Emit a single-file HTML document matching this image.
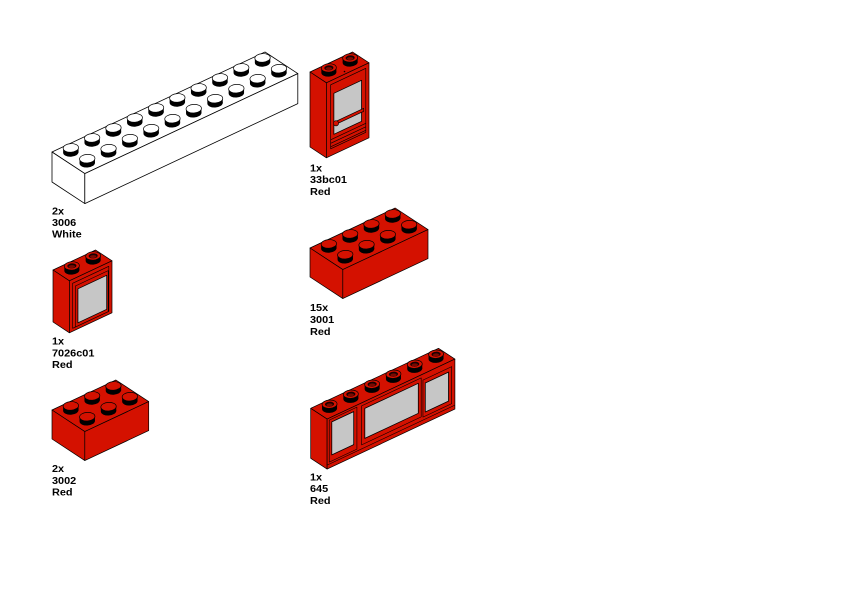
<!DOCTYPE html>
<html>
<head>
<meta charset="utf-8">
<style>
  html, body { margin:0; padding:0; background:#fff; }
  svg { display:block; }
  text { font-family: "Liberation Sans", Arial, sans-serif; font-weight: bold; font-size: 10.2px; fill:#000; }
</style>
</head>
<body>
<svg width="842" height="596" viewBox="0 0 842 596" xmlns="http://www.w3.org/2000/svg">
  <defs>
    <g id="sw">
      <ellipse rx="7.7" ry="4.3" fill="#000" transform="rotate(-3.5)"/>
      <rect x="-7.7" y="-4.5" width="15.4" height="4.5" fill="#000"/>
      <ellipse cy="-4.5" rx="7.7" ry="4.3" fill="#fff" stroke="#000" stroke-width=".7" transform="rotate(-3.5 0 -4.5)"/>
    </g>
    <g id="sr">
      <ellipse rx="7.7" ry="4.3" fill="#000" transform="rotate(-3.5)"/>
      <rect x="-7.7" y="-4.5" width="15.4" height="4.5" fill="#000"/>
      <ellipse cy="-4.5" rx="7.7" ry="4.3" fill="#d41100" stroke="#000" stroke-width=".7" transform="rotate(-3.5 0 -4.5)"/>
    </g>
    <g id="sh">
      <ellipse rx="7.5" ry="4.2" fill="#000" transform="rotate(-3.5)"/>
      <rect x="-7.5" y="-4.5" width="15" height="4.5" fill="#000"/>
      <ellipse cy="-4.5" rx="7.5" ry="4.2" fill="#d41100" stroke="#000" stroke-width=".7" transform="rotate(-3.5 0 -4.5)"/>
      <ellipse cy="-4.5" rx="4.6" ry="2.5" fill="#1a0000" transform="rotate(-3.5 0 -4.5)"/>
      <ellipse cy="-3.8" rx="3.2" ry="1.5" fill="#7a0900" transform="rotate(-3.5 0 -3.8)"/>
    </g>
  </defs>

  <!-- ===== 3006 White 2x10 ===== -->
  <g stroke="#000" stroke-width=".8" stroke-linejoin="round" fill="#fff">
    <polygon points="52,152 265,52 297.8,73.6 84.8,173.6"/>
    <polygon points="52,152 84.8,173.6 84.8,203.6 52,182"/>
    <polygon points="84.8,173.6 297.8,73.6 297.8,103.6 84.8,203.6"/>
  </g>
  <use href="#sw" x="70.85" y="152.4"/>
  <use href="#sw" x="92.15" y="142.4"/>
  <use href="#sw" x="113.45" y="132.4"/>
  <use href="#sw" x="134.75" y="122.4"/>
  <use href="#sw" x="156.05" y="112.4"/>
  <use href="#sw" x="177.35" y="102.4"/>
  <use href="#sw" x="198.65" y="92.4"/>
  <use href="#sw" x="219.95" y="82.4"/>
  <use href="#sw" x="241.25" y="72.4"/>
  <use href="#sw" x="262.55" y="62.4"/>
  <use href="#sw" x="87.25" y="163.2"/>
  <use href="#sw" x="108.55" y="153.2"/>
  <use href="#sw" x="129.85" y="143.2"/>
  <use href="#sw" x="151.15" y="133.2"/>
  <use href="#sw" x="172.45" y="123.2"/>
  <use href="#sw" x="193.75" y="113.2"/>
  <use href="#sw" x="215.05" y="103.2"/>
  <use href="#sw" x="236.35" y="93.2"/>
  <use href="#sw" x="257.65" y="83.2"/>
  <use href="#sw" x="278.95" y="73.2"/>

  <!-- ===== 3001 Red 2x4 ===== -->
  <g stroke="#000" stroke-width=".7" stroke-linejoin="round" fill="#d41100">
    <polygon points="310,248 395.2,208 428,229.6 342.8,269.6"/>
    <polygon points="310,248 342.8,269.6 342.8,298.6 310,277"/>
    <polygon points="342.8,269.6 428,229.6 428,258.6 342.8,298.6"/>
  </g>
  <use href="#sr" x="328.85" y="248.4"/>
  <use href="#sr" x="350.15" y="238.4"/>
  <use href="#sr" x="371.45" y="228.4"/>
  <use href="#sr" x="392.75" y="218.4"/>
  <use href="#sr" x="345.25" y="259.2"/>
  <use href="#sr" x="366.55" y="249.2"/>
  <use href="#sr" x="387.85" y="239.2"/>
  <use href="#sr" x="409.15" y="229.2"/>

  <!-- ===== 3002 Red 2x3 ===== -->
  <g stroke="#000" stroke-width=".7" stroke-linejoin="round" fill="#d41100">
    <polygon points="52,410 115.9,380 148.7,401.6 84.8,431.6"/>
    <polygon points="52,410 84.8,431.6 84.8,460.6 52,439"/>
    <polygon points="84.8,431.6 148.7,401.6 148.7,430.6 84.8,460.6"/>
  </g>
  <use href="#sr" x="70.85" y="410.4"/>
  <use href="#sr" x="92.15" y="400.4"/>
  <use href="#sr" x="113.45" y="390.4"/>
  <use href="#sr" x="87.25" y="421.2"/>
  <use href="#sr" x="108.55" y="411.2"/>
  <use href="#sr" x="129.85" y="401.2"/>

  <!-- ===== 33bc01 Door ===== -->
  <g stroke="#000" stroke-width=".7" stroke-linejoin="round" fill="#d41100">
    <polygon points="310,72 352.6,52 369,62.8 326.4,82.8"/>
    <polygon points="310,72 326.4,82.8 326.4,157.8 310,147"/>
    <polygon points="326.4,82.8 369,62.8 369,137.8 326.4,157.8"/>
    <polygon points="330.66,84.8 365.8,68.3 365.8,132.3 330.66,148.8" stroke-width=".6"/>
    <polygon points="333.86,93.3 361.55,80.3 361.55,121.3 333.86,134.3" fill="#c6c6c6" stroke-width=".8"/>
    <polygon points="333.86,122.3 363.7,108.3 363.7,111.3 333.86,125.3" stroke-width=".6"/>
    <circle cx="336" cy="123.3" r="2.6" stroke-width=".6"/>
    <polyline points="330.66,139.8 365.8,123.3" fill="none" stroke-width=".6"/>
    <polyline points="330.66,143.3 365.8,126.8" fill="none" stroke-width=".6"/>
    <polyline points="330.66,146.8 365.8,130.3" fill="none" stroke-width=".6"/>
  </g>
  <circle cx="344.5" cy="71.5" r=".8" fill="#000"/>
  <use href="#sh" x="328.85" y="72.4"/>
  <use href="#sh" x="350.15" y="62.4"/>

  <!-- ===== 7026c01 Window ===== -->
  <g stroke="#000" stroke-width=".7" stroke-linejoin="round" fill="#d41100">
    <polygon points="53,270 95.6,250 112,260.8 69.4,280.8"/>
    <polygon points="53,270 69.4,280.8 69.4,332.8 53,322"/>
    <polygon points="69.4,280.8 112,260.8 112,312.8 69.4,332.8"/>
    <polygon points="72.6,283.3 108.8,266.3 108.8,311.3 72.6,328.3" stroke-width=".6"/>
    <polygon points="75.36,286 108.2,270.6 108.2,311.6 75.36,327" stroke-width=".6"/>
    <polygon points="77.92,288.8 106.7,275.3 106.7,309.3 77.92,322.8" fill="#c6c6c6" stroke-width=".8"/>
  </g>
  <use href="#sh" x="71.85" y="270.4"/>
  <use href="#sh" x="93.15" y="260.4"/>

  <!-- ===== 645 Window 1x6 ===== -->
  <g stroke="#000" stroke-width=".7" stroke-linejoin="round" fill="#d41100">
    <polygon points="310.7,408.3 438.5,348.3 454.9,359.1 327.1,419.1"/>
    <polygon points="310.7,408.3 327.1,419.1 327.1,469.1 310.7,458.3"/>
    <polygon points="327.1,419.1 454.9,359.1 454.9,409.1 327.1,469.1"/>
    <polygon points="329.23,420.1 356.92,407.1 356.92,449.1 329.23,462.1" stroke-width=".6"/>
    <polygon points="361.6,405.9 421.2,377.9 421.2,416.9 361.6,444.9" stroke-width=".6"/>
    <polygon points="422.95,380.1 451.7,366.6 451.7,403.6 422.95,417.1" stroke-width=".6"/>
    <polygon points="331.79,421.9 353.7,411.6 353.7,444.6 331.79,454.9" fill="#c6c6c6" stroke-width=".8"/>
    <polygon points="364.8,408.4 418.3,383.3 418.3,413.3 364.8,438.4" fill="#c6c6c6" stroke-width=".8"/>
    <polygon points="425.3,383 448.5,372.1 448.5,401.1 425.3,412" fill="#c6c6c6" stroke-width=".8"/>
    <polyline points="327.1,465.1 454.9,405.1" fill="none" stroke-width=".6"/>
  </g>
  <use href="#sh" x="329.55" y="408.7"/>
  <use href="#sh" x="350.85" y="398.7"/>
  <use href="#sh" x="372.15" y="388.7"/>
  <use href="#sh" x="393.45" y="378.7"/>
  <use href="#sh" x="414.75" y="368.7"/>
  <use href="#sh" x="436.05" y="358.7"/>

  <!-- ===== Labels ===== -->
  <g transform="translate(52 0) scale(1.07 1)">
    <text x="0" y="214.4">2x</text>
    <text x="0" y="226.1">3006</text>
    <text x="0" y="237.6">White</text>
  </g>
  <g transform="translate(310 0) scale(1.07 1)">
    <text x="0" y="171.4">1x</text>
    <text x="0" y="183.1">33bc01</text>
    <text x="0" y="194.8">Red</text>
  </g>
  <g transform="translate(52 0) scale(1.07 1)">
    <text x="0" y="344.4">1x</text>
    <text x="0" y="356.4">7026c01</text>
    <text x="0" y="368.1">Red</text>
  </g>
  <g transform="translate(310 0) scale(1.07 1)">
    <text x="0" y="311.1">15x</text>
    <text x="0" y="323.1">3001</text>
    <text x="0" y="334.8">Red</text>
  </g>
  <g transform="translate(52 0) scale(1.07 1)">
    <text x="0" y="472.1">2x</text>
    <text x="0" y="483.8">3002</text>
    <text x="0" y="495.4">Red</text>
  </g>
  <g transform="translate(310 0) scale(1.07 1)">
    <text x="0" y="480.4">1x</text>
    <text x="0" y="492.1">645</text>
    <text x="0" y="503.8">Red</text>
  </g>
</svg>
</body>
</html>
